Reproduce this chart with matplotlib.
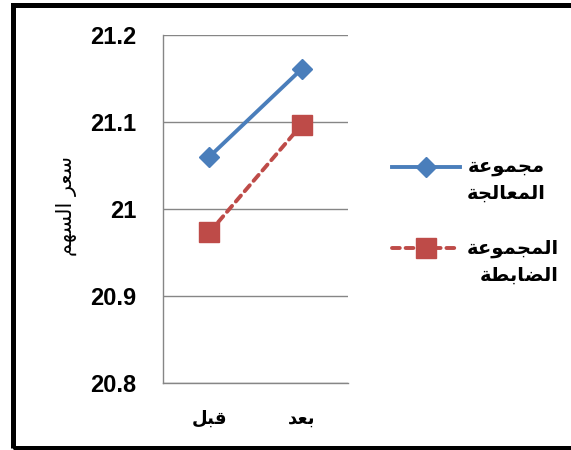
import matplotlib
matplotlib.use("Agg")
import matplotlib.pyplot as plt
from matplotlib.patches import Rectangle

# القيم
categories = ["قبل", "بعد"]
treated = [21.06, 21.161]
control = [20.973, 21.097]
series_names = ["مجموعة\nالمعالجة", "المجموعة\nالضابطة"]
y_title = "سعر السهم"
y_ticks = [20.8, 20.9, 21.0, 21.1, 21.2]
y_tick_labels = ["20.8", "20.9", "21", "21.1", "21.2"]

# أشكال الحروف العربية (Presentation Forms-B): أول رمز + عدد الأشكال
FORMS = {
    "ا": (0xFE8D, 2), "ب": (0xFE8F, 4), "ة": (0xFE93, 2), "ج": (0xFE9D, 4),
    "د": (0xFEA9, 2), "ر": (0xFEAD, 2), "س": (0xFEB1, 4), "ض": (0xFEBD, 4),
    "ط": (0xFEC1, 4), "ع": (0xFEC9, 4), "ق": (0xFED5, 4), "ل": (0xFEDD, 4),
    "م": (0xFEE1, 4), "ه": (0xFEE9, 4), "و": (0xFEED, 2),
}


def shape_line(s):
    out = []
    for i, ch in enumerate(s):
        if ch not in FORMS:
            out.append(ch)
            continue
        base, n = FORMS[ch]
        prev = s[i - 1] if i > 0 else ""
        nxt = s[i + 1] if i + 1 < len(s) else ""
        join_prev = prev in FORMS and FORMS[prev][1] == 4
        join_next = n == 4 and nxt in FORMS
        if join_prev and join_next:
            out.append(chr(base + 3))
        elif join_prev:
            out.append(chr(base + 1))
        elif join_next:
            out.append(chr(base + 2))
        else:
            out.append(chr(base))
    return "".join(out)[::-1]


def ar(s):
    return "\n".join(shape_line(line) for line in s.split("\n"))


plt.rcParams["font.family"] = ["Liberation Sans", "DejaVu Sans"]

fig = plt.figure(figsize=(5.71, 4.5), dpi=100)
ax = fig.add_axes([0.2855, 0.1489, 0.324, 0.7733])

x = range(len(categories))
ax.plot(x, treated, color="#4A7EBB", lw=2.8, marker="D", ms=10.5,
        mec="#4A7EBB", label=ar(series_names[0]))
ax.plot(x, control, color="#BE4B48", lw=2.8, ls=(0, (2.0, 1.5)), marker="s",
        ms=15, mec="#BE4B48", dash_capstyle="round", label=ar(series_names[1]))

ax.set_xlim(-0.5, 1.5)
ax.set_ylim(20.8, 21.2)
ax.set_yticks(y_ticks)
ax.set_yticklabels(y_tick_labels, fontsize=17, fontweight="bold")
ax.set_xticks(list(x))
ax.set_xticklabels([ar(c) for c in categories], fontsize=13, fontweight="bold",
                   family="DejaVu Sans")
ax.tick_params(axis="both", length=0)
ax.tick_params(axis="y", pad=19)
ax.tick_params(axis="x", pad=19)

ax.grid(axis="y", color="#868686", lw=1)
ax.set_axisbelow(True)
for side in ["top", "right"]:
    ax.spines[side].set_visible(False)
for side in ["left", "bottom"]:
    ax.spines[side].set_color("#868686")
    ax.spines[side].set_linewidth(1)

ax.set_ylabel(ar(y_title), fontsize=15, family="DejaVu Sans")
ax.yaxis.set_label_coords(-0.465, 0.51)

leg = ax.legend(loc="upper left", bbox_to_anchor=(374 / 571, 1 - 140 / 450),
                bbox_transform=fig.transFigure, frameon=False,
                prop={"family": "DejaVu Sans", "weight": "bold", "size": 14},
                handlelength=3.5, handleheight=1.5, handletextpad=0.35,
                labelspacing=1.85)
for t in leg.get_texts():
    t.set_multialignment("right")
    t.set_linespacing(1.5)
# الرمز بمحاذاة السطر الأول من كل تسمية
for col in leg._legend_handle_box.get_children():
    for row in col.get_children():
        row.align = "top"

# الإطار الخارجي
fig.patches.append(Rectangle((12.5 / 571, 2.5 / 450), 570 / 571, 443 / 450,
                             transform=fig.transFigure, fill=False,
                             ec="black", lw=3.6))

fig.savefig("out.png", dpi=100)
